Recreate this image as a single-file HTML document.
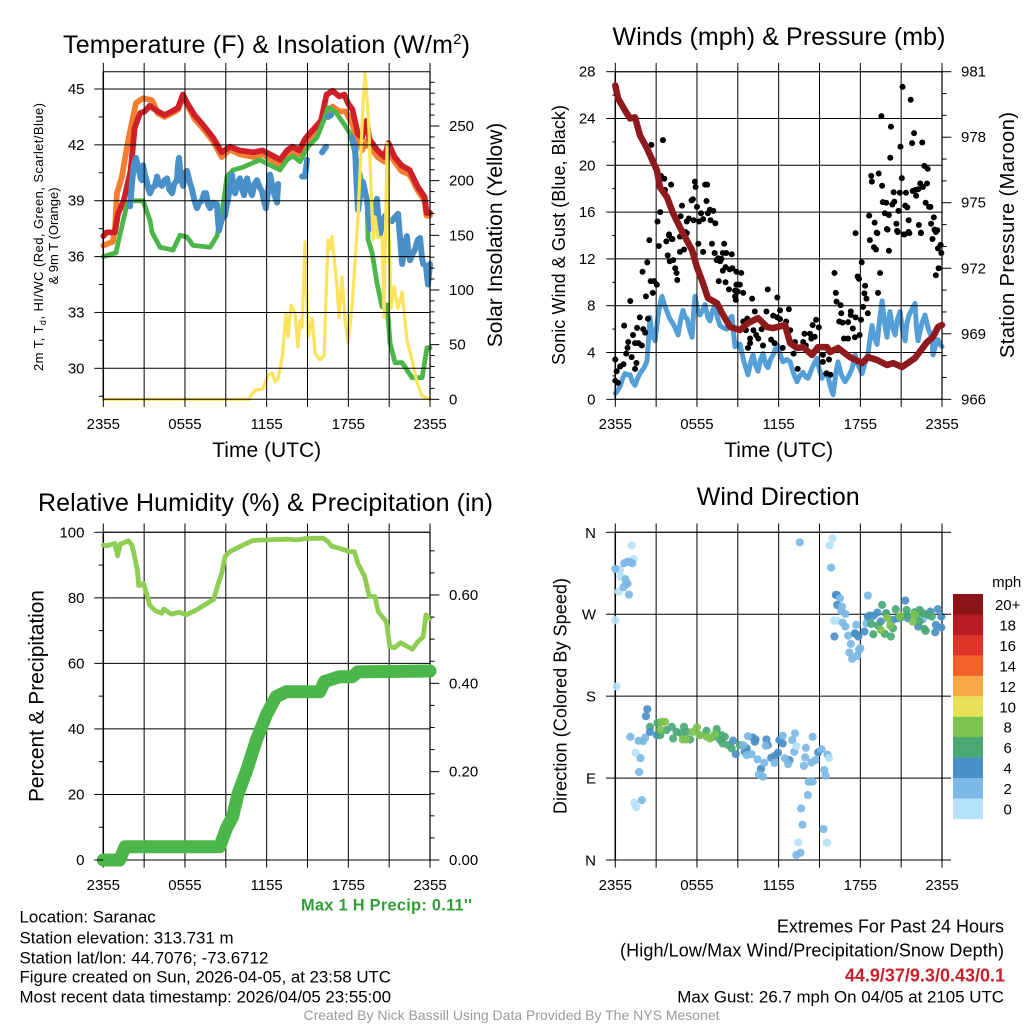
<!DOCTYPE html>
<html lang="en">
<head>
<meta charset="utf-8">
<title>Saranac Mesonet Meteogram</title>
<style>
html,body{margin:0;padding:0;background:#fff;}
svg{display:block;font-family:"Liberation Sans",sans-serif;fill:#000;}
.title{font-size:25px;}
.axt{font-size:21px;}
.foot{font-size:16.9px;}
.foot2{font-size:18px;}
.tick{font-size:15px;}
</style>
</head>
<body>
<svg id="fig" xmlns="http://www.w3.org/2000/svg" width="1024" height="1024" viewBox="0 0 1024 1024">
<rect x="0" y="0" width="1024" height="1024" fill="#fff"/>
<g id="p1"></g>
<g id="p2"></g>
<g id="p3"></g>
<g id="p4"></g>
<g id="cbar"></g>

<text class="title" x="63" y="53" textLength="407">Temperature (F) &amp; Insolation (W/m<tspan dy="-9" font-size="15">2</tspan><tspan dy="9">)</tspan></text>
<text class="title" x="612.5" y="45" textLength="333">Winds (mph) &amp; Pressure (mb)</text>
<text class="title" x="38" y="511" textLength="455">Relative Humidity (%) &amp; Precipitation (in)</text>
<text class="title" x="696.7" y="505" textLength="163">Wind Direction</text>

<text class="axt" x="266.7" y="457" text-anchor="middle">Time (UTC)</text>
<text class="axt" x="778.7" y="457" text-anchor="middle">Time (UTC)</text>

<text font-size="13" transform="translate(43,371) rotate(-90)" textLength="268">2m T, T<tspan dy="3" font-size="9">d</tspan><tspan dy="-3">, HI/WC (Red, Green, Scarlet/Blue)</tspan></text>
<text font-size="13" transform="translate(58,236) rotate(-90)" text-anchor="middle">&amp; 9m T (Orange)</text>
<text class="axt" transform="translate(502,235) rotate(-90)" text-anchor="middle">Solar Insolation (Yellow)</text>
<text font-size="18" transform="translate(565,365) rotate(-90)" textLength="260">Sonic Wind &amp; Gust (Blue, Black)</text>
<text font-size="20" transform="translate(1014,358) rotate(-90)" textLength="246">Station Pressure (Maroon)</text>
<text class="axt" transform="translate(43.5,802) rotate(-90)" textLength="212">Percent &amp; Precipitation</text>
<text font-size="18" transform="translate(566.7,814) rotate(-90)" textLength="236">Direction (Colored By Speed)</text>

<text x="301" y="910.7" font-size="16.4" font-weight="bold" style="fill:#2e9f35" textLength="171">Max 1 H Precip: 0.11''</text>

<text class="foot" x="19.5" y="922.7">Location: Saranac</text>
<text class="foot" x="19.5" y="943.3">Station elevation: 313.731 m</text>
<text class="foot" x="19.5" y="963.3">Station lat/lon: 44.7076; -73.6712</text>
<text class="foot" x="19.5" y="982.7" textLength="371.5">Figure created on Sun, 2026-04-05, at 23:58 UTC</text>
<text class="foot" x="19.5" y="1002.7" textLength="371.5">Most recent data timestamp: 2026/04/05 23:55:00</text>

<text class="foot2" x="1004" y="932.7" text-anchor="end">Extremes For Past 24 Hours</text>
<text class="foot2" x="620" y="956.7" textLength="384">(High/Low/Max Wind/Precipitation/Snow Depth)</text>
<text class="foot2" x="1005" y="981.7" text-anchor="end" font-weight="bold" style="fill:#c8202a">44.9/37/9.3/0.43/0.1</text>
<text class="foot" x="1004" y="1002.7" text-anchor="end">Max Gust: 26.7 mph On 04/05 at 2105 UTC</text>
<text x="511.5" y="1020" font-size="14" text-anchor="middle" style="fill:#9a9a9a">Created By Nick Bassill Using Data Provided By The NYS Mesonet</text>
</svg>

<script>
// ---------- tick values and labels ----------
const timeTicks = [0,3,6,9,12,15,18,21,24];
const timeLabels = ['2355','','0555','','1155','','1755','','2355'];
const tempTicks = [30,33,36,39,42,45];
const tempMinor = [28.5,31.5,34.5,37.5,40.5,43.5];
const solarTicks = [0,50,100,150,200,250];
const solarMinor = [10,20,30,40,60,70,80,90,110,120,130,140,160,170,180,190,210,220,230,240,260,270,280,290];
const windTicks = [0,4,8,12,16,20,24,28];
const windMinor = [2,6,10,14,18,22,26];
const presTicks = [966,969,972,975,978,981];
const presMinor = [967,968,970,971,973,974,976,977,979,980];
const rhTicks = [0,20,40,60,80,100];
const rhMinor = [10,30,50,70,90];
const rainTicks = [0,0.2,0.4,0.6];
const rainLabels = ['0.00','0.20','0.40','0.60'];
const rainMinor = [0.05,0.1,0.15,0.25,0.3,0.35,0.45,0.5,0.55,0.65,0.7];
const dirTicks = [0,90,180,270,360];
const dirLabels = ['N','E','S','W','N'];
const cbarLabels = ['20+','18','16','14','12','10','8','6','4','2','0'];
const cbarColors = ['#8c1418','#b81b24','#de3329','#f26128','#f9a945','#e9e05a','#7cc24e','#4aa875','#4a8fc5','#7cb8e5','#b5e2f9'];

// ---------- temperature panel series ----------
const redHours = [0,.25,.85,1.08,1.5,2,2.15,2.3,2.7,3.05,3.4,4,4.5,5.05,5.5,5.85,6.2,6.7,7.3,8.05,8.7,9.3,10,11,11.7,12.1,13,13.5,13.9,14.4,14.8,15.4,16,16.4,16.85,17.35,17.7,18,18.3,18.7,19,19.35,19.55,20.15,20.65,20.95,21.4,21.9,22.5,23.1,23.6,23.75,24];
const redTemps = [37.1,37.3,37.3,38.3,39,40.6,41.7,42.9,43.7,43.8,44.1,43.8,43.6,43.8,44,44.7,44.2,43.6,43.1,42.4,41.6,41.9,41.7,41.6,41.7,41.55,41.2,41.7,41.9,41.7,42.3,42.8,43.3,44.7,44.9,44.6,44.7,44.2,43.9,42.6,42.4,43.3,42.3,41.7,41.35,42.1,41.35,40.9,40.65,39.75,39.2,38.35,38.35];
const orangeHours = [0,.7,.86,1,1.37,1.74,2.1,2.4,2.92,3.58,4,4.5,5.05,5.5,5.85,6.2,6.7,7.3,8.05,8.7,9.3,10,11,11.7,12.1,13,13.5,13.9,14.4,14.8,15.4,16,16.4,16.85,17.35,17.8,18.3,18.7,19,19.35,19.55,20.15,20.65,20.95,21.4,21.9,22.5,23.1,23.6,23.75,24];
const orangeTemps = [36.6,36.8,37.5,39.4,40.3,41.9,43.2,44.25,44.5,44.4,43.7,43.5,43.7,43.9,44.6,44.1,43.4,42.9,42.2,41.35,41.75,41.5,41.35,41.5,41.3,40.95,41.45,41.7,41.5,42.1,42.6,43.2,43.7,44.05,43.8,43.8,43.1,42.2,41.7,42.2,41.9,41.35,41.1,41.6,41.1,40.6,40.4,39.55,39,38.2,38.2];
const greenHours = [0,.93,1.23,1.74,1.96,2.92,3.43,3.58,4.17,5.12,5.64,6.15,6.59,7.84,8.35,8.72,9.09,9.53,10.26,11.51,11.73,12.98,13.5,13.94,14.45,15.04,15.7,16.29,16.51,17.02,17.61,18.13,18.7,19.38,19.45,19.75,20.1,20.48,20.85,21.07,21.43,21.95,22.68,23.42,23.78,24];
const greenTemps = [36,36.2,37.2,38.8,39,39,37.95,37.3,36.5,36.35,37.15,37.05,36.6,36.5,37.1,38.35,40.3,40.65,40.8,41.2,41.1,40.65,41.2,41.4,41.1,41.9,42.4,43.5,44,43.8,43.2,42.6,40.9,38.9,36.9,36.2,34.6,33.3,33.4,31.35,30.3,30.3,29.5,29.5,31.1,31.1];
const chillHours = [1.96,2.05,2.11,2.25,2.4,2.5,2.62,2.75,2.84,2.92,3.05,3.21,3.33,3.43,3.6,3.8,3.95,4.1,4.31,4.5,4.68,4.85,5.05,5.2,5.41,5.5,5.56,5.7,5.86,6,6.15,6.35,6.52,6.7,6.88,7.05,7.25,7.4,7.55,7.7,7.84,8.1,8.35,8.42,8.5,8.7,8.94,9.05,9.16,9.3,9.46,9.56,9.68,9.85,10.04,10.2,10.34,10.45,10.56,10.75,10.93,11.1,11.29,11.5,11.66,11.8,11.95,12.1,12.25,12.5,12.76,12.84,13,14.6,14.82,14.97,15.5,16.07,16.36,16.45,16.51,16.73,17.5,18.27,18.49,18.6,18.71,18.9,19.08,19.25,19.38,19.6,19.75,19.89,20.1,20.22,20.33,20.5,20.7,20.95,21.2,21.4,21.65,21.8,21.95,22.1,22.3,22.42,22.53,22.7,22.9,23.1,23.27,23.4,23.5,23.7,23.85,24];
const chillTemps = [38.7,39.4,40,40.9,41.3,41,40.6,40.2,40.1,40.9,40.4,40,39.6,39.4,39.7,39.8,40.3,39.9,39.8,40.1,40.2,39.6,39.4,39.9,40.1,41,41.3,40.2,39.8,40.5,40.6,40,39.6,39,38.6,38.9,39,39.4,39.4,38.8,38.6,38.9,38.8,38,37.4,38,38.2,38.7,39.05,39.8,40.4,39.8,39.4,39.9,40.2,39.6,39.3,39.9,40.2,39.6,39.3,39.9,40.1,39.7,39.5,39,38.6,39.5,40.4,39.5,38.9,39.9,null,40.3,40.3,41.2,null,41.6,41.9,null,43.5,43.6,null,42.4,41.9,40,38.5,39.4,40,39.4,39,37.5,38,38.5,39.1,38,37.2,37.8,38.2,38,37.9,38.1,38.3,37,35.6,36.4,37.1,36.2,35.8,36.1,36.4,36.9,37,36,35.6,35.5,34.5,35.6];
const solarHours = [0,10.75,10.78,11.15,11.37,11.73,12.1,12.4,12.63,12.84,13.13,13.2,13.42,13.57,13.79,14.08,14.3,14.45,14.6,14.82,15.04,15.34,15.56,15.92,16.22,16.51,16.66,16.8,17.17,17.32,17.54,17.76,17.98,18.27,18.49,18.71,19.08,19.23,19.38,19.52,19.6,19.82,19.96,20.18,20.48,20.62,20.85,20.92,21.14,21.36,21.65,21.95,22.31,22.68,23.05,23.42,24];
const solarValues = [0,0,2,8.5,8.5,10,22,24,16,19,38,45,79,57,86,79,48,72,66,144,57,74,42,36,40,146,137,149,103,75,112,72,52,85,125,167,270,298,274,246,216,146,167,148,148,75,234,190,83,103,83,98,54,36,15,3,0];

// ---------- winds panel series ----------
const speedHours = [0,.2,.35,.55,.71,.9,1.08,1.25,1.45,1.6,1.81,2.05,2.2,2.33,2.45,2.55,2.7,2.92,3.15,3.3,3.43,3.6,3.8,4,4.17,4.4,4.61,4.8,4.97,5.15,5.27,5.45,5.64,5.75,5.86,6.05,6.22,6.4,6.59,6.8,6.96,7.15,7.33,7.5,7.69,7.95,8.2,8.4,8.57,8.7,8.79,9,9.16,9.45,9.75,9.95,10.12,10.3,10.49,10.67,10.85,11.05,11.22,11.4,11.59,11.75,11.95,12.15,12.32,12.6,12.84,13.1,13.35,13.55,13.79,14,14.16,14.5,14.82,15,15.19,15.35,15.55,15.8,16,16.2,16.36,16.6,16.88,17.15,17.39,17.61,17.85,18.13,18.35,18.57,18.72,18.86,19.05,19.23,19.42,19.6,19.78,19.96,20.08,20.18,20.35,20.55,20.72,20.92,21.1,21.29,21.42,21.58,21.8,22.02,22.12,22.24,22.5,22.75,23,23.27,23.34,23.5,23.71,23.85,24];
const speedValues = [.5,.8,1.1,1.8,2.2,2.1,2.1,1.5,1.2,1.7,2.2,2.6,2.9,3.3,5.2,7,5.5,5,7.2,8.2,8.8,8.1,7.5,6.9,6.6,6.1,5.5,6.8,7.6,7,6.9,6,5.3,7.4,8.8,7.6,7.2,7.6,8.1,7,6.7,7.6,8,7,6.3,6.1,6,6.9,7.1,5.5,4.5,4.7,4.7,3.2,2.1,3.2,3.8,2.9,2.4,3.4,3.9,3,2.7,3.4,3.8,4.3,4.6,3.7,3.2,3.4,3.2,2.2,1.5,2,2.3,1.9,1.8,2.8,3.5,2.5,1.8,2.1,2.3,1.1,.4,2.2,3.2,2.1,1.5,2,2.6,3.8,2.9,2.2,3.1,3.9,5.3,6.3,5.2,4.7,6.8,8.4,6.5,5.3,6.7,7.5,6.2,5.5,6.8,7.5,5.9,5,6.5,7.2,7.7,8.2,6.2,5,6.4,7.2,6,5.2,3.8,4.5,5.1,4.7,4.5];
const gustHours = [0,0,.1,.2,.35,.6,.65,.8,.9,.95,1.1,1.2,1.3,1.45,1.6,1.7,1.8,1.95,2.05,2.2,1.55,1.45,2,2.25,2.35,2.4,2.5,2.6,2.75,2.85,3.05,3.2,3.75,3.95,3.85,4,4.15,4.25,4.4,4.5,4.55,4.75,4.85,5.05,5.25,5.6,6.1,6.45,7.1,7.3,7.45,7.55,7.7,7.8,8,7.9,8.15,8.55,8.1,7.9,7.6,8.1,8.35,8.4,8.6,8.8,8.9,9.25,8.9,9.15,9,9.4,8.8,8.85,10.05,11.2,11.9,12.1,12.75,10.25,11.1,11.6,11.9,12.1,12.55,9.7,9.4,9.6,10.15,10.35,10.5,10.85,10.75,9.9,9.9,9.75,11.45,11.7,12.3,12.85,13.2,13.8,13.9,14.3,14.4,14,13.1,13.4,14.5,14.75,14.95,14.65,15.25,15.25,15.7,15.5,15.8,16.1,16.2,16.25,16.55,16.6,16.45,16.7,16.8,17.1,17.3,17.3,17.1,17.45,17.65,17.6,17.95,18.05,18.1,17.8,17.9,18.35,18.2,18.3,18.45,18.55,19.3,19.45,18.7,19,19.15,19.25,20.1,20,20.75,21.25,21.6,22.45,23.3,23.55,23.75,23.95,23.7,23.9,23.55,2.65,3.5,3.35,3.6,4.1,3.3,3.1,3.65,3.95,4.2,4.9,4.8,5.15,4.75,5.25,5.4,5.75,5.6,5.7,5.85,5.9,6,6.15,6.45,6.3,6.6,6.75,6.7,6.8,6.95,7.2,7,7.35,17.65,18.65,18.8,18.85,19.35,19.55,20.25,19.6,19.05,19.2,19.65,19.9,19.8,20.1,20.45,20.5,20.35,20.9,20.8,19.95,20.65,20.7,20.2,20.95,21.05,21.1,21.7,21.95,21.8,22.55,22.7,22.95,21.35,21.3,21.45,21.85,22.05,22.25,22.1,22.6,22.9,22.4,22.8,23.05,23.15,23.4,23.2,21.55,22.3,22.45,21.55,21.2,23.45,23.65];
const gustValues = [3.4,1.6,2.4,1.4,2.8,3,6.3,3.9,4.4,4.9,8.4,3.6,5.5,4.8,6.1,4.8,7,4.6,6,5.7,3.1,2.6,10.9,8.8,11.7,6.9,13.6,10.1,9.1,10.1,9.8,13.1,13.5,14.1,12.3,11.8,13.7,11.9,11.2,10.8,10.2,12.6,14,12.8,14.2,12.9,13.3,12.6,13.3,12.5,11.9,12.05,11.8,12,13.3,12.5,12.5,12.4,11.3,11,10.1,10,9.4,11.1,11.2,9.3,10.9,10.8,9.8,9.8,9.2,9.1,8.8,8.5,8.6,9.4,8.7,7.6,7.7,7.5,7.5,7.15,7,6.85,6.65,6.9,6.65,5.9,5.9,5.5,5.2,4.6,6,5.2,4.8,4.4,5.1,4.8,4.4,5.9,4.9,4.9,5.6,5.6,5.2,4.6,3.9,2.6,6.35,6.8,6.15,5.35,3.8,3.2,3.4,2.2,2.1,10.8,9.1,8.35,8.05,7.35,6.65,6.55,5.2,5.2,7.5,7.2,6.6,6.05,7,5.3,5.5,6.8,11.7,10.5,10.3,9.7,7.9,9.05,8.6,7.35,9.1,10.8,13.6,13,12.8,14.2,12.7,14.5,14.3,14.1,14.2,14.2,13.7,10.6,11.2,12.5,12.9,13.2,14.3,21.75,22.15,19.1,18.85,18.35,16,15.2,17.9,14,13.7,16.55,15.65,14.3,13.9,15.2,15.45,15.3,17,17.1,18.6,18.15,16.45,15.2,15.4,15.9,18.35,18.35,16.95,15.9,16.2,16.1,15.3,15.05,14.2,15.7,19.1,18.6,19.3,24.2,23.3,18.25,15.1,14.25,16.85,16.8,15.9,15.75,17.7,16.9,16.65,17.65,16.1,14.55,15,14.4,20.65,21.6,18.9,26.7,25.6,22.75,21.9,21.95,19.95,19.7,17.65,16.55,16.4,17.8,17.9,17.95,17.4,18.15,18.45,18.45,16.8,16.45,16.45,15.55,15,15.3,14.9,14.25,14.3,14.1,14.5,14.45];
const pressureHours = [0,.2,.71,1.08,1.45,1.81,2.33,3.06,3.28,3.8,4.24,4.97,5.64,6,6.44,6.81,7.47,7.84,8.43,9.16,9.75,10.49,11.15,11.59,12.47,12.84,13.35,13.79,14.45,14.89,15.55,15.77,16.36,17.24,18.13,18.57,19.23,19.96,20.41,21.07,22.02,22.9,23.34,23.71,24];
const pressureValues = [980.37,979.78,979.23,978.86,978.91,978.09,977.49,976.48,975.71,975.25,974.52,973.6,972.83,972.05,971.32,970.63,970.4,969.95,969.31,969.17,969.49,969.72,969.31,969.26,969.4,968.57,968.35,968.39,968.03,968.39,968.39,968.16,968.35,967.93,967.66,967.93,967.8,967.57,967.66,967.48,967.89,968.62,968.85,969.31,969.4];

// ---------- humidity panel series ----------
const rhHours = [0,.25,.85,1.05,1.25,1.85,2.1,2.3,2.5,2.6,2.95,3.2,3.4,3.8,4.3,4.45,5,5.6,6.1,6.85,8.1,8.45,8.7,8.95,9.3,10.25,11,12,13.45,14.2,14.9,16.15,16.5,16.75,17.35,18.1,18.45,18.7,19.2,19.55,19.95,20.2,20.8,21.05,21.4,21.85,22.7,23.1,23.5,23.7,24];
const rhValues = [96.1,95.9,96.6,92.8,96.4,97.4,96.1,92.6,88.5,83.7,84.4,80.9,77.8,76.1,75.3,76.6,75,75.6,74.8,76.3,79.5,84.4,87.5,92.6,94.1,96.1,97.5,97.7,97.9,97.7,98.1,98.2,97.2,95.8,95.1,94.1,94.1,90.5,86.5,80.4,80.4,75.8,72.7,65.1,64.8,66.3,64.3,66.6,68.1,74.8,73.7];
const rainHours = [0,1.2,1.6,8.55,9.05,9.5,9.9,10.5,11.25,12,12.7,13.45,15.9,16.25,16.85,17.35,18.3,18.7,24];
const rainValues = [0,0,.03,.03,.072,.098,.15,.2,.272,.33,.37,.381,.381,.404,.41,.415,.415,.426,.428];

// ---------- wind direction panel series ----------
const dirHours = [1.2,1.35,.35,.2,.4,.25,0,.1,0,.65,.9,1.1,1.25,.75,.8,.9,.6,1,13.55,15.95,15.75,15.85,16.2,16.28,16.5,16.3,16.65,16.6,16.9,16.05,16.3,16.7,16.9,17.7,16.1,17.1,17.6,17.7,17.85,18.3,18.45,18.55,17.3,18,17.9,17.2,17.75,17.4,18.7,18.95,19.25,18.55,19.9,19.5,20.4,20.75,21.3,22.25,23.15,23.7,23.95,23.55,23.95,23.5,22.95,21.5,22.6,19.6,20.6,21.4,22.35,18.95,19.8,20.25,18.8,19.3,20.4,22.7,22.8,22,21,22.35,22.95,23.25,19.9,21.4,22.6,22.1,20,20.2,19.5,21.85,22,20.9,2.35,2.25,2.55,1.1,1.7,2.05,2.2,1.5,1.85,1.75,1.4,1.55,1.95,2.55,3.05,3.1,3.3,3.75,4.15,4.25,4.5,5.05,4.85,5.5,5.25,6.2,6.7,7.45,7.8,8.05,8.3,8.55,7.9,9.15,7.2,7.7,3.4,3.65,3.3,4.95,5.2,5.7,6,6.2,6.7,6.95,7.3,8.65,8.85,9.65,9.5,10.1,10.3,10.25,10.7,11.1,11.2,11.45,11.7,11.95,12.05,12.3,12.8,14.9,9.75,9.4,10,9.65,10.45,10.95,10.55,10.85,11.05,11.7,12.3,12.45,12.7,13,13.2,13.15,14,14.5,13.95,13.85,14.4,14.7,15.15,15.6,15.35,15.45,14.2,14.5,14.15,13.65,13.75,13.3,13.6,15.3,13.3,15.7,13.45,15.55];
const dirDegrees = [345.7,330.7,318.6,319.4,311.3,294.9,263.4,190.6,319.8,326,327.8,327,326,308.4,304,303.3,299.6,291.6,349,353.4,345.7,321.2,291.2,291.2,287.6,280.2,278.4,273.5,270.4,263,263,260.8,256.5,258.3,245.5,246.5,249,248,245.5,251,260,290.5,237.4,232.7,231,227.9,224.2,221,268.5,268.2,271.8,267.4,271.1,262,263.8,265.6,285,256.5,272.9,275.5,267.4,258.3,255.4,250.2,269.3,265.6,264.5,280.2,275.5,274.7,274.7,248,248.4,245.5,259.4,257.6,254.6,253.9,251.7,272.2,266.7,261.9,270,267.4,270.4,269.3,271,267.4,265.6,257.6,252.8,261.9,269.3,267.4,165.7,158,146.3,135.4,131,130.6,134.6,117.8,112,96.6,62.9,57.8,65.8,140.8,137.2,150.7,137.2,142.7,146.3,133.5,140.8,146.3,139,132.4,140.8,137.2,142,143.8,137.2,135.4,126.2,122.6,128,126.2,135.4,131.7,151.8,151.8,143.4,132.4,132.4,140.8,145.6,137.2,135.4,133.5,137.9,131,116.3,122.6,118.9,134.6,132.4,129.9,100.2,132.4,126.2,112.3,114.1,117.8,131.7,128,109.7,118.2,136,126.2,116.3,115.2,110.5,106.8,94,91.5,125.5,106.8,136.5,111.6,105.4,131.7,139,118.9,123.3,135.4,112.7,103.5,107.2,109.7,121.5,115.6,98.8,92.6,86,86,71.3,56.7,38.8,5.5,8,34,125.1,112,19.4,19];
const dirSpeeds = [0,0,0,0,0,0,0,0,2,2,2,2,2,2,2,2,2,2,2,0,0,2,4,4,2,4,2,2,2,0,0,2,2,2,4,2,4,4,4,4,2,2,2,2,2,2,2,2,4,4,4,4,4,4,4,4,4,4,4,4,4,4,4,4,4,4,2,6,6,6,6,6,6,6,6,6,6,6,6,6,6,6,6,6,6,6,6,6,8,8,8,8,8,8,4,4,6,2,2,2,2,0,2,2,0,0,2,4,4,6,6,6,6,6,6,6,6,6,6,6,6,6,6,6,6,6,6,6,6,6,8,8,8,8,8,8,8,8,8,8,8,4,4,4,4,4,4,4,4,4,4,4,4,4,4,4,4,4,2,2,2,2,2,2,2,2,2,2,2,2,2,2,2,2,2,2,2,2,2,2,2,2,2,2,2,2,2,2,2,2,2,2,0,0,0,0];

// ---------- axis functions ----------
function linear(d0, d1, r0, r1) {
  return function (v) { return r0 + (v - d0) * (r1 - r0) / (d1 - d0); };
}
const xLeft = linear(0, 24, 103.3, 430);
const xRight = linear(0, 24, 615.3, 942);
const yTemp = linear(30, 45, 368.3, 89);
const ySolar = linear(0, 250, 399.3, 126);
const yWind = linear(0, 28, 399.3, 71.7);
const yPres = linear(966, 981, 399.3, 71.7);
const yRH = linear(0, 100, 860, 532.3);
const yRain = linear(0, 0.6, 860, 595);
const yDir = linear(0, 360, 860, 532.3);

const NS = 'http://www.w3.org/2000/svg';
function lineEl(parent, x1, y1, x2, y2, name, width) {
  const l = document.createElementNS(NS, 'line');
  l.setAttribute('x1', x1); l.setAttribute('y1', y1);
  l.setAttribute('x2', x2); l.setAttribute('y2', y2);
  l.setAttribute('stroke', '#000');
  l.setAttribute('stroke-width', width || 1);
  
  
  parent.appendChild(l);
}
function textEl(parent, x, y, str, anchor, name) {
  const t = document.createElementNS(NS, 'text');
  t.setAttribute('x', x); t.setAttribute('y', y);
  t.setAttribute('class', 'tick');
  t.setAttribute('text-anchor', anchor);
  t.textContent = str;
  
  
  parent.appendChild(t);
}
function seriesEl(parent, hours, values, xf, yf, color, width, name) {
  let d = '', pen = false;
  for (let i = 0; i < hours.length; i++) {
    if (values[i] === null) { pen = false; continue; }
    d += (pen ? 'L' : 'M') + xf(hours[i]).toFixed(2) + ' ' + yf(values[i]).toFixed(2);
    pen = true;
  }
  const p = document.createElementNS(NS, 'path');
  p.setAttribute('d', d);
  p.setAttribute('fill', 'none');
  p.setAttribute('stroke', color);
  p.setAttribute('stroke-width', width);
  p.setAttribute('stroke-linecap', 'round');
  p.setAttribute('stroke-linejoin', 'round');
  
  
  parent.appendChild(p);
}
function drawGrid(g, xf, yTop, yBot, yf, ticks) {
  const x0 = xf(0), x1 = xf(24);
  timeTicks.forEach(function (t) {
    lineEl(g, xf(t), yTop - 8.8, xf(t), yBot + 7.6, 'time-gridline');
  });
  ticks.forEach(function (v) {
    lineEl(g, x0, yf(v), x1, yf(v), 'value-gridline');
  });
  lineEl(g, x0, yTop, x1, yTop, 'frame-top');
  lineEl(g, x0, yBot, x1, yBot, 'frame-bottom');
  lineEl(g, x0, yTop, x0, yBot, 'frame-left', 1.5);
  lineEl(g, x1, yTop, x1, yBot, 'frame-right', 1.2);
}
function drawTimeLabels(g, xf, y) {
  timeTicks.forEach(function (t, i) {
    if (timeLabels[i]) textEl(g, xf(t), y, timeLabels[i], 'middle', 'time-tick-label');
  });
}
function leftAxis(g, xf, yf, ticks, minor, labels, labelRight, major, minorLen) {
  const x0 = xf(0);
  ticks.forEach(function (v, i) {
    lineEl(g, x0 - major, yf(v), x0, yf(v), 'left-major-tick');
    textEl(g, labelRight, yf(v) + 5, labels[i], 'end', 'left-tick-label');
  });
  minor.forEach(function (v) {
    lineEl(g, x0 - minorLen, yf(v), x0, yf(v), 'left-minor-tick');
  });
}
function rightAxis(g, xf, yf, ticks, minor, labels, labelLeft) {
  const x1 = xf(24);
  ticks.forEach(function (v, i) {
    lineEl(g, x1, yf(v), x1 + 9.3, yf(v), 'right-major-tick');
    textEl(g, labelLeft, yf(v) + 5, labels[i], 'start', 'right-tick-label');
  });
  minor.forEach(function (v) {
    lineEl(g, x1, yf(v), x1 + 4.5, yf(v), 'right-minor-tick');
  });
}

// ---------- panel 1: temperature and insolation ----------
(function () {
  const g = document.getElementById('p1');
  seriesEl(g, orangeHours, orangeTemps, xLeft, yTemp, '#f47e30', 5.8, 'orange-9m-temperature-line');
  seriesEl(g, redHours, redTemps, xLeft, yTemp, '#d02027', 5.8, 'red-2m-temperature-line');
  seriesEl(g, greenHours, greenTemps, xLeft, yTemp, '#4cb749', 4.8, 'green-dewpoint-line');
  seriesEl(g, chillHours, chillTemps, xLeft, yTemp, '#4a90c8', 6, 'blue-wind-chill-line');
  seriesEl(g, solarHours, solarValues, xLeft, ySolar, '#fde35a', 3.2, 'yellow-insolation-line');
  drawGrid(g, xLeft, 71.7, 399.3, yTemp, tempTicks);
  leftAxis(g, xLeft, yTemp, tempTicks, tempMinor, tempTicks, 84.5, 9, 4.5);
  rightAxis(g, xLeft, ySolar, solarTicks, solarMinor, solarTicks, 449);
  drawTimeLabels(g, xLeft, 429);
})();

// ---------- panel 2: winds and pressure ----------
(function () {
  const g = document.getElementById('p2');
  seriesEl(g, speedHours, speedValues, xRight, yWind, '#559fd8', 5, 'sonic-wind-line');
  drawGrid(g, xRight, 71.7, 399.3, yWind, windTicks);
  gustHours.forEach(function (h, i) {
    const c = document.createElementNS(NS, 'circle');
    c.setAttribute('cx', xRight(h).toFixed(2));
    c.setAttribute('cy', yWind(gustValues[i]).toFixed(2));
    c.setAttribute('r', 3);
    c.setAttribute('fill', '#000');
    
    
    g.appendChild(c);
  });
  seriesEl(g, pressureHours, pressureValues, xRight, yPres, '#8e1a1e', 6.5, 'station-pressure-line');
  leftAxis(g, xRight, yWind, windTicks, windMinor, windTicks, 595.5, 9, 3);
  rightAxis(g, xRight, yPres, presTicks, presMinor, presTicks, 961);
  drawTimeLabels(g, xRight, 429);
})();

// ---------- panel 3: humidity and precipitation ----------
(function () {
  const g = document.getElementById('p3');
  drawGrid(g, xLeft, 532.3, 860, yRH, rhTicks);
  seriesEl(g, rhHours, rhValues, xLeft, yRH, '#8ece53', 4.8, 'relative-humidity-line');
  seriesEl(g, rainHours, rainValues, xLeft, yRain, '#4bb74a', 13, 'accumulated-precipitation-line');
  leftAxis(g, xLeft, yRH, rhTicks, rhMinor, rhTicks, 84.5, 9, 4.5);
  rightAxis(g, xLeft, yRain, rainTicks, rainMinor, rainLabels, 449);
  drawTimeLabels(g, xLeft, 890);
})();

// ---------- panel 4: wind direction scatter ----------
(function () {
  const g = document.getElementById('p4');
  drawGrid(g, xRight, 532.3, 860, yDir, dirTicks);
  dirHours.forEach(function (h, i) {
    const c = document.createElementNS(NS, 'circle');
    const bin = Math.min(10, Math.round(dirSpeeds[i] / 2));
    c.setAttribute('cx', xRight(h).toFixed(2));
    c.setAttribute('cy', yDir(dirDegrees[i]).toFixed(2));
    c.setAttribute('r', 4.1);
    c.setAttribute('fill', cbarColors[10 - bin]);
    c.setAttribute('fill-opacity', 0.92);
    
    
    g.appendChild(c);
  });
  dirTicks.forEach(function (v, i) {
    lineEl(g, 606, yDir(v), 615.3, yDir(v), 'direction-left-tick');
    lineEl(g, 942, yDir(v), 951, yDir(v), 'direction-right-tick');
    textEl(g, 596, yDir(v) + 5.5, dirLabels[i], 'end', 'direction-tick-label');
  });
  drawTimeLabels(g, xRight, 890);
})();

// ---------- colorbar ----------
(function () {
  const g = document.getElementById('cbar');
  const top = 594, step = 20.45;
  cbarColors.forEach(function (col, i) {
    const r = document.createElementNS(NS, 'rect');
    r.setAttribute('x', 953); r.setAttribute('y', top + i * step);
    r.setAttribute('width', 30); r.setAttribute('height', step + 0.2);
    r.setAttribute('fill', col);
    
    
    g.appendChild(r);
    textEl(g, 1007.7, 610 + i * step, cbarLabels[i], 'middle', 'colorbar-label');
  });
  textEl(g, 1006.7, 587, 'mph', 'middle', 'colorbar-unit');
})();
</script>
</body>
</html>
